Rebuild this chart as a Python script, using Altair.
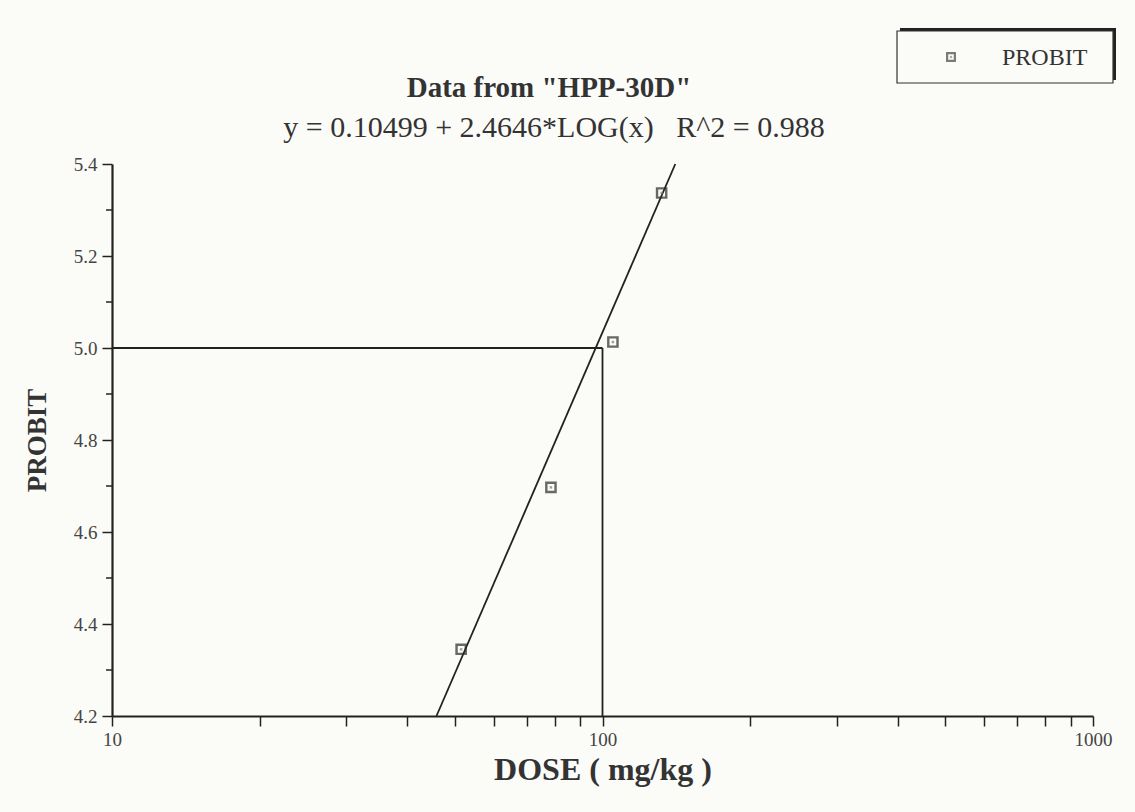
import altair as alt
import pandas as pd

# Observed probit responses at each dose (mg/kg)
dose = [51.5, 78.5, 105.0, 132.0]
probit = [4.345, 4.697, 5.013, 5.337]

# Fitted regression: PROBIT = a + b * log10(dose)
fit_a = 0.10499
fit_b = 2.4646
fit_r2 = 0.988

# LD50 read-off: probit 5 at dose 100 mg/kg
ld50_dose = 100.0
ld50_probit = 5.0

# Axis ranges and ticks
x_domain = [10, 1000]
y_domain = [4.2, 5.4]
x_tick_values = [10, 20, 30, 40, 50, 60, 70, 80, 90,
                 100, 200, 300, 400, 500, 600, 700, 800, 900, 1000]
x_labelled = [10, 100, 1000]
y_major = [4.2, 4.4, 4.6, 4.8, 5.0, 5.2, 5.4]
y_minor = [4.3, 4.5, 4.7, 4.9, 5.1, 5.3]

NBSP = "\u00a0"
title_text = 'Data from "HPP-30D"'
subtitle_text = f"y = {fit_a} + {fit_b}*LOG(x){NBSP * 3}R^2 = {fit_r2}"
legend_label = "PROBIT"

W, H = 981, 552
SERIF = "Liberation Serif"
INK = "#222222"

xs = alt.Scale(type="log", domain=x_domain, nice=False)
ys = alt.Scale(domain=y_domain, zero=False, nice=False)

obs = pd.DataFrame({"dose": dose, "probit": probit})

# regression line spans the full probit range of the plot
fit = pd.DataFrame({"probit": y_domain})
fit["dose"] = 10 ** ((fit["probit"] - fit_a) / fit_b)

guides = pd.DataFrame({
    "x": [x_domain[0], ld50_dose],
    "x2": [ld50_dose, ld50_dose],
    "y": [ld50_probit, y_domain[0]],
    "y2": [ld50_probit, ld50_probit],
})

minor = pd.DataFrame({"probit": y_minor})
one = pd.DataFrame({"k": [0]})

label_test = " || ".join(f"datum.value == {v}" for v in x_labelled)

x_axis = alt.Axis(
    values=x_tick_values,
    labelExpr=f"({label_test}) ? format(datum.value, 'd') : ''",
    tickSize=10, tickColor=INK, tickWidth=1.5,
    domainColor=INK, domainWidth=2.2,
    labelFont=SERIF, labelFontSize=19, labelColor="#444", labelPadding=4,
    labelFlush=False,
    title="DOSE ( mg/kg )", titleFont=SERIF, titleFontSize=32,
    titleFontWeight="bold", titleColor="#333", titlePadding=5,
    grid=False,
)
y_axis = alt.Axis(
    values=y_major, format=".1f",
    tickSize=10, tickColor=INK, tickWidth=1.5,
    domainColor=INK, domainWidth=2.2,
    labelFont=SERIF, labelFontSize=19, labelColor="#444", labelPadding=5,
    title="PROBIT", titleFont=SERIF, titleFontSize=27,
    titleFontWeight="bold", titleColor="#333", titlePadding=22,
    grid=False,
)

fit_line = alt.Chart(fit).mark_line(color=INK, strokeWidth=1.8).encode(
    x=alt.X("dose:Q", scale=xs, axis=x_axis),
    y=alt.Y("probit:Q", scale=ys, axis=y_axis),
)

guide_lines = alt.Chart(guides).mark_rule(color=INK, strokeWidth=1.8).encode(
    x=alt.X("x:Q", scale=xs), x2="x2:Q",
    y=alt.Y("y:Q", scale=ys), y2="y2:Q",
)

points = alt.Chart(obs).mark_point(
    shape="square", size=85, filled=False, stroke="#2a2a2a", strokeWidth=2.4
).encode(x=alt.X("dose:Q", scale=xs), y=alt.Y("probit:Q", scale=ys))

point_dots = alt.Chart(obs).mark_point(
    shape="square", size=6, filled=True, color="#777"
).encode(x=alt.X("dose:Q", scale=xs), y=alt.Y("probit:Q", scale=ys))

minor_ticks = alt.Chart(minor).mark_rule(color=INK, strokeWidth=1.5).encode(
    y=alt.Y("probit:Q", scale=ys), x=alt.value(-6), x2=alt.value(0),
)

title = alt.Chart(one).mark_text(
    text=title_text, font=SERIF, fontSize=29, fontWeight="bold",
    color="#333", align="center", baseline="middle",
).encode(x=alt.value(437), y=alt.value(-76))

subtitle = alt.Chart(one).mark_text(
    text=subtitle_text, font=SERIF, fontSize=30, color="#333",
    align="center", baseline="middle",
).encode(x=alt.value(442), y=alt.value(-36))

# framed legend with a drop shadow on its top and right edges
legend_shadow = alt.Chart(one).mark_rect(color="#222").encode(
    x=alt.value(788), x2=alt.value(1004), y=alt.value(-136), y2=alt.value(-84),
)
legend_box = alt.Chart(one).mark_rect(
    fill="#fbfbf8", stroke="#333", strokeWidth=1.2
).encode(
    x=alt.value(785), x2=alt.value(1001), y=alt.value(-133), y2=alt.value(-81),
)
legend_mark = alt.Chart(one).mark_point(
    shape="square", size=60, filled=False, stroke="#444", strokeWidth=2.2
).encode(x=alt.value(839), y=alt.value(-107))
legend_dot = alt.Chart(one).mark_point(
    shape="square", size=5, filled=True, color="#888"
).encode(x=alt.value(839), y=alt.value(-107))
legend_text = alt.Chart(one).mark_text(
    text=legend_label, font=SERIF, fontSize=24, color="#333",
    align="left", baseline="middle",
).encode(x=alt.value(890), y=alt.value(-106))

chart = alt.layer(
    fit_line, guide_lines, minor_ticks, points, point_dots,
    title, subtitle, legend_shadow, legend_box, legend_mark, legend_dot,
    legend_text,
).properties(
    width=W, height=H,
    autosize="none",
    padding={"left": 112, "top": 164, "right": 42, "bottom": 96},
    background="#fbfbf8",
).configure_view(stroke=None)

chart.save("out.html", embed_options={"renderer": "svg", "actions": False})
